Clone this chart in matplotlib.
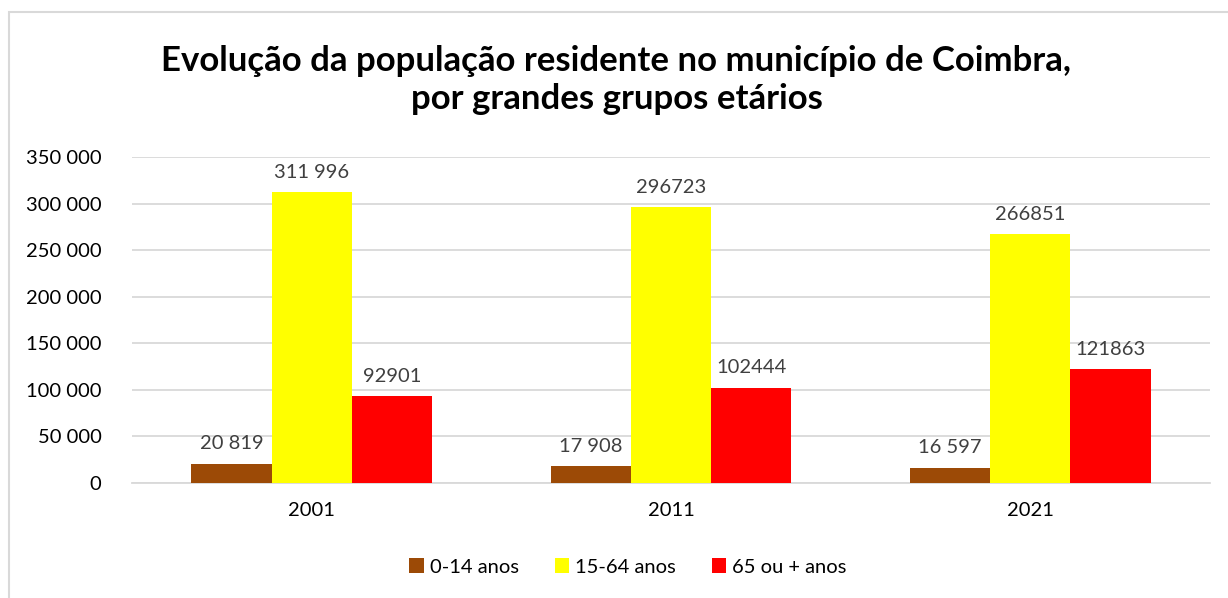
import matplotlib
matplotlib.use("Agg")
import matplotlib.pyplot as plt
import numpy as np
from matplotlib.patches import Rectangle

years = ["2001", "2011", "2021"]
series_names = ["0-14 anos", "15-64 anos", "65 ou + anos"]
v_0_14 = [20819, 17908, 16597]
v_15_64 = [311996, 296723, 266851]
v_65 = [92901, 102444, 121863]
lbl_0_14 = ["20 819", "17 908", "16 597"]
lbl_15_64 = ["311 996", "296723", "266851"]
lbl_65 = ["92901", "102444", "121863"]
colors = ["#9C4A06", "#FFFF00", "#FF0000"]
yticks = [0, 50000, 100000, 150000, 200000, 250000, 300000, 350000]
ytick_labels = ["0", "50 000", "100 000", "150 000", "200 000", "250 000", "300 000", "350 000"]

plt.rcParams['font.family'] = ['Lato', 'DejaVu Sans']

fig = plt.figure(figsize=(12.28, 5.98), dpi=100)
fig.patch.set_facecolor("white")
# chart border (partial, as in the reference)
fig.add_artist(Rectangle((9/1228, -0.05), 1.2, 1-12/598+0.05, transform=fig.transFigure,
                         fill=False, edgecolor="#D9D9D9", linewidth=1.5))

ax = fig.add_axes([132/1228, 1-483/598, (1210-132)/1228, (483-157)/598])
x = np.arange(len(years))
w = 0.223
all_vals = [v_0_14, v_15_64, v_65]
all_lbls = [lbl_0_14, lbl_15_64, lbl_65]
for i, (vals, lbls) in enumerate(zip(all_vals, all_lbls)):
    bars = ax.bar(x + (i - 1) * w, vals, width=w, color=colors[i], label=series_names[i], zorder=3)
    for b, t in zip(bars, lbls):
        ax.annotate(t, (b.get_x() + b.get_width() / 2, b.get_height()), xytext=(0, 8),
                    textcoords="offset points", ha="center", va="bottom",
                    fontsize=14.5, color="#404040", zorder=4)

ax.set_xlim(-0.5, 2.5)
ax.set_ylim(0, 350000)
ax.set_yticks(yticks)
ax.set_yticklabels(ytick_labels, fontsize=14.5, color="black")
ax.set_xticks(x)
ax.set_xticklabels(years, fontsize=14.5, color="black")
ax.grid(axis="y", color="#D9D9D9", linewidth=1.3, zorder=0)
for s in ["top", "right", "left"]:
    ax.spines[s].set_visible(False)
ax.spines["bottom"].set_color("#D9D9D9")
ax.spines["bottom"].set_linewidth(1.3)
ax.tick_params(axis="both", length=0)
ax.tick_params(axis="y", pad=22)
ax.tick_params(axis="x", pad=14)

fig.text(0.5 * (158 + 1075) / 1228, 1 - 80 / 598,
         "Evolução da população residente no município de Coimbra,\npor grandes grupos etários",
         ha="center", va="center", fontsize=25, fontweight="bold", linespacing=1.25)

fig.legend(loc="center", bbox_to_anchor=(628/1228, 1 - 567/598), ncol=3, frameon=False,
           fontsize=14.5, handlelength=0.7, handleheight=0.7, handletextpad=0.3, columnspacing=1.8)

fig.savefig("out.png", dpi=100, facecolor="white")
